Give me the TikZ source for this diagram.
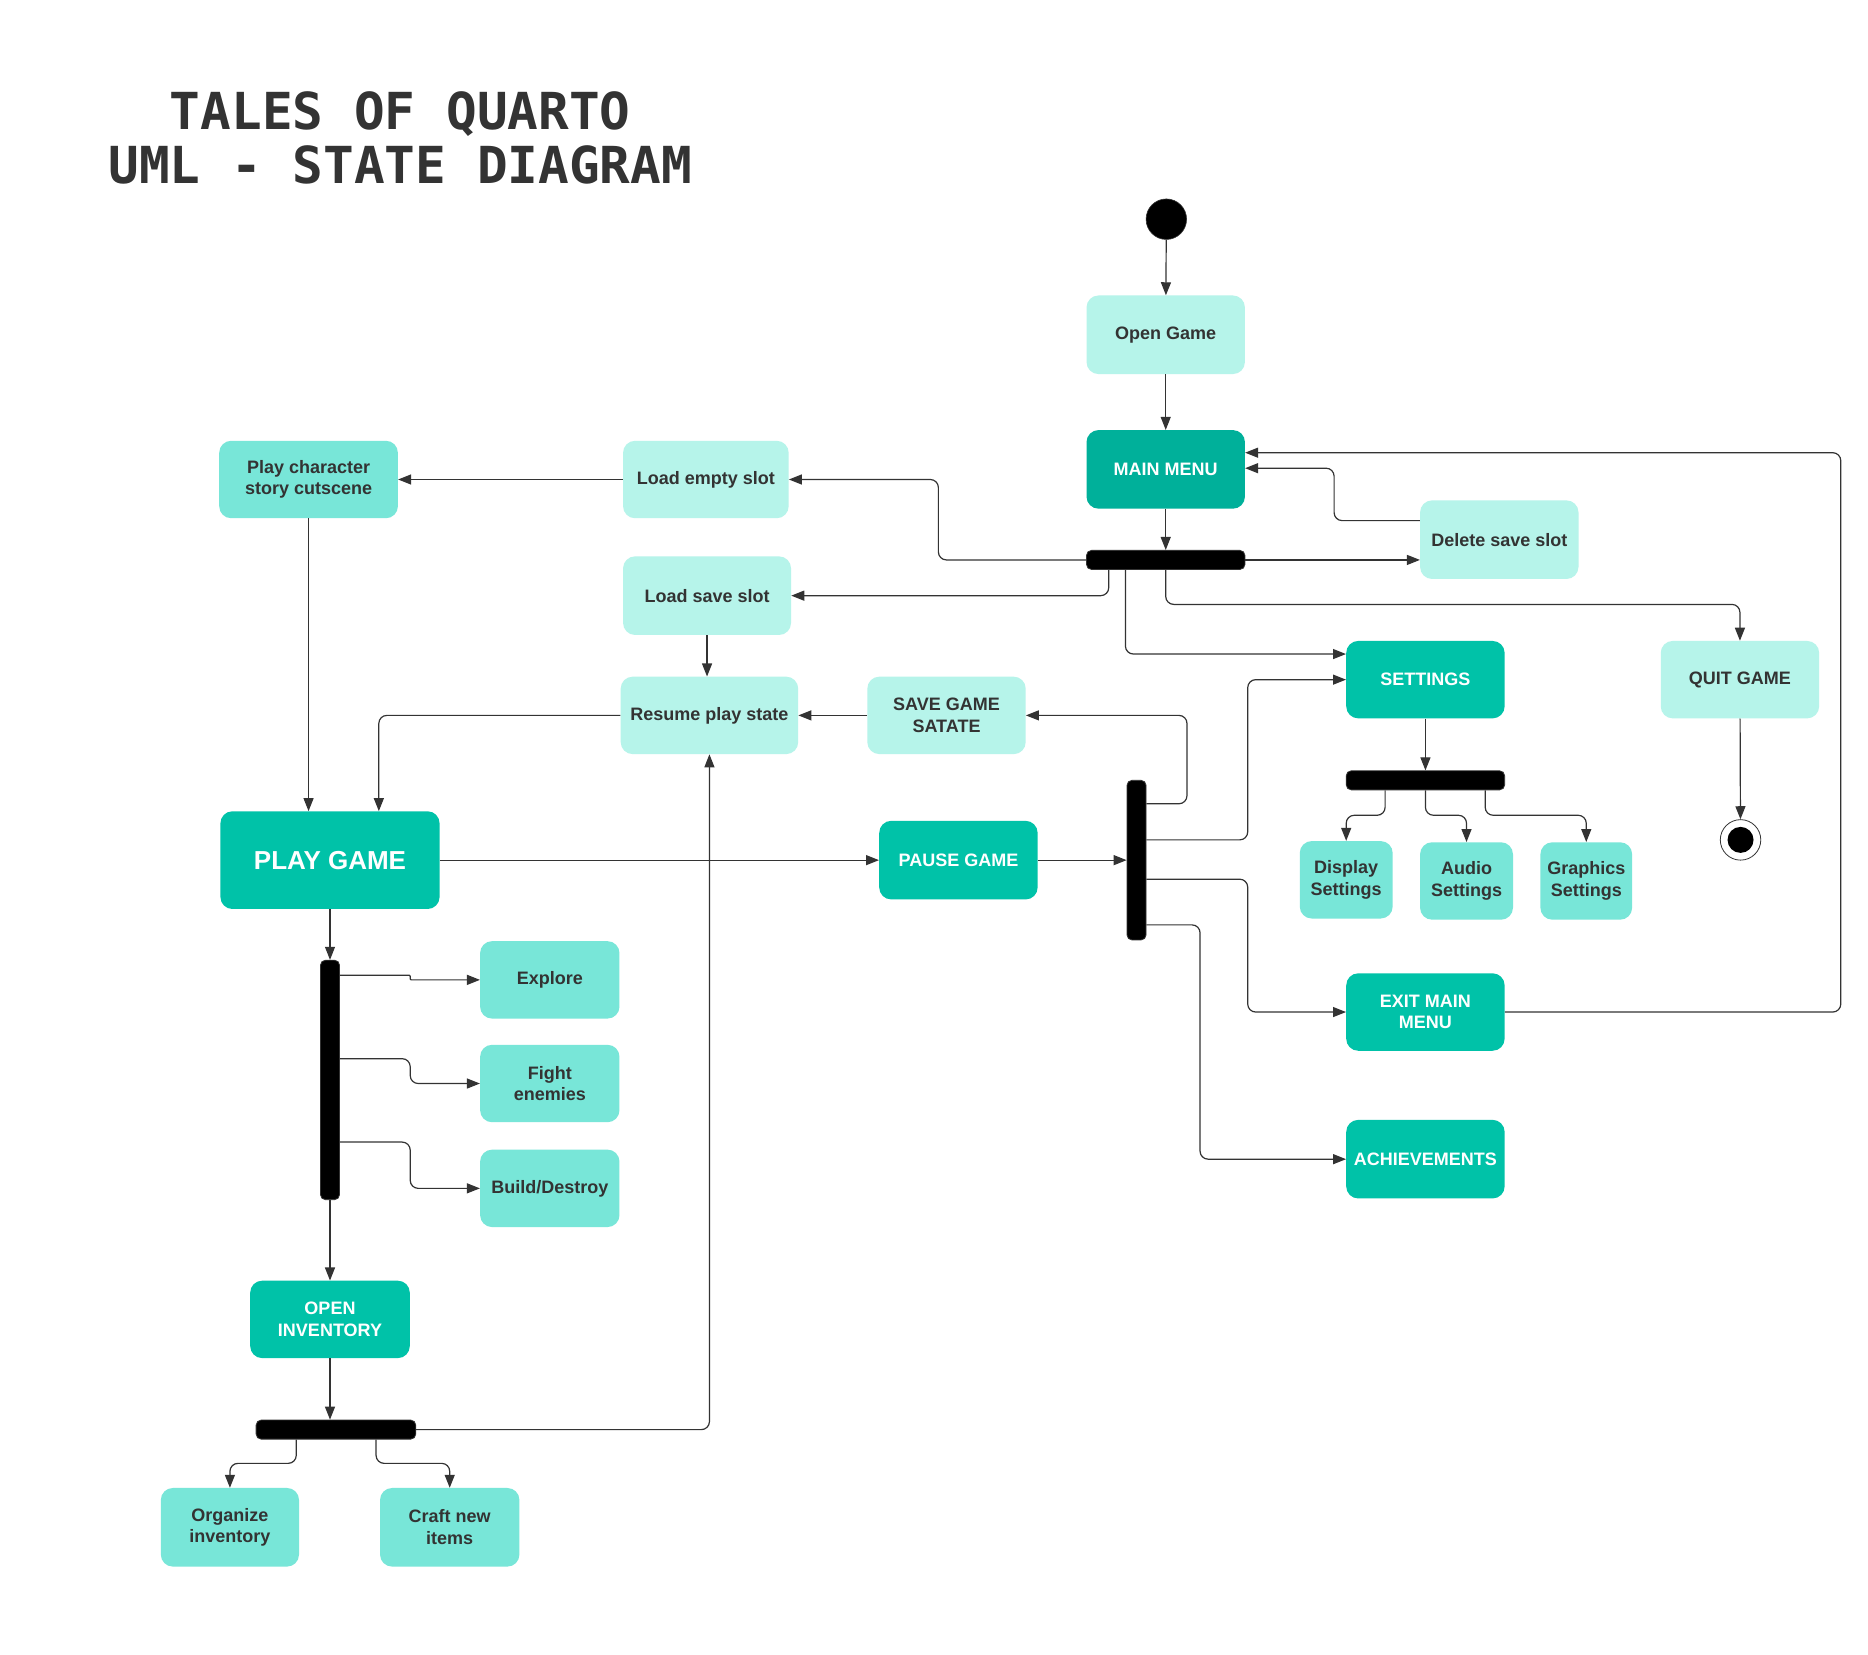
\documentclass[tikz,border=0pt]{standalone}
\usepackage{fontspec}
\setmainfont{Liberation Sans}
\newfontfamily\titlefont{DejaVu Sans Mono}
\usetikzlibrary{arrows.meta,calc}
\definecolor{lightc}{HTML}{B6F4EA}
\definecolor{midc}{HTML}{78E6D8}
\definecolor{tealc}{HTML}{00C2A8}
\definecolor{darkc}{HTML}{00B09A}
\definecolor{ink}{HTML}{333333}
\begin{document}
\begin{tikzpicture}[x=1.1913pt,y=-1.1913pt,
  box/.style={rounded corners=12pt, inner sep=0pt, align=center,
    font=\bfseries\fontsize{18}{21.5}\selectfont, text=ink,
    minimum width=158.4pt, minimum height=78.6pt},
  lbox/.style={box, fill=lightc},
  mbox/.style={box, fill=midc},
  tbox/.style={box, fill=tealc, text=white},
  dbox/.style={box, fill=darkc, text=white},
  wd/.style={minimum width=#1*1.1913pt},
  ht/.style={minimum height=#1*1.1913pt},
  barshape/.style={fill=black, draw=ink, line width=0.8pt, rounded corners=5pt, inner sep=0pt},
  arr/.style={draw=ink, line width=1.2pt, rounded corners=8pt, -{Triangle[length=13pt,width=10pt]}},
  titlestyle/.style={font=\titlefont\bfseries\fontsize{51}{54}\selectfont, text=ink, anchor=base, inner sep=0pt},
]
\fill[white] (0,0) rectangle (1568,1389);
\useasboundingbox (0,0) rectangle (1568,1389);

% title
\node[titlestyle] (t1) at (336,109) {TALES OF QUARTO};
\node[titlestyle] (t2) at (336,154) {UML - STATE DIAGRAM};

% initial / final
\node[circle, fill=black, draw=ink, line width=0.6pt, minimum size=40.5pt, inner sep=0pt] (init) at (979,184) {};
\node[circle, fill=white, draw=ink, line width=0.8pt, minimum size=40.5pt, inner sep=0pt] (final) at (1461,705) {};
\fill[black] (final.center) circle (13pt);

% states
\node[lbox] (open) at (978.5,281) {Open Game};
\node[dbox] (main) at (978.5,394) {MAIN MENU};
\node[lbox] (delete) at (1258.5,453) {Delete save slot};
\node[lbox, wd=139, ht=65] (lempty) at (592.5,402.5) {Load empty slot};
\node[mbox, wd=150, ht=65] (story) at (259,402.5) {Play character\\story cutscene};
\node[lbox, wd=141] (lsave) at (593.5,500) {Load save slot};
\node[lbox, wd=149, ht=65] (resume) at (595.5,600.5) {Resume play state};
\node[lbox, ht=65] (savegs) at (794.5,600.5) {SAVE GAME\\SATATE};
\node[tbox, ht=65] (settings) at (1196.5,570.5) {SETTINGS};
\node[lbox, ht=65] (quit) at (1460.5,570.5) {QUIT GAME};
\node[mbox, wd=78, ht=65] (display) at (1130,738.5) {Display\\Settings};
\node[mbox, wd=78, ht=65] (audio) at (1231,739.5) {Audio\\Settings};
\node[mbox, wd=77, ht=65] (graphics) at (1331.5,739.5) {Graphics\\Settings};
\node[tbox, wd=184, ht=82, font=\bfseries\fontsize{26}{30}\selectfont] (play) at (277,722) {PLAY GAME};
\node[tbox] (pause) at (804.5,722) {PAUSE GAME};
\node[tbox, ht=65] (exitmm) at (1196.5,849.5) {EXIT MAIN\\MENU};
\node[tbox] (achiev) at (1196.5,973) {ACHIEVEMENTS};
\node[mbox, wd=117, ht=65] (explore) at (461.5,822.5) {Explore};
\node[mbox, wd=117, ht=65] (fight) at (461.5,909.5) {Fight\\enemies};
\node[mbox, wd=117, ht=65] (build) at (461.5,997.5) {Build/Destroy};
\node[tbox, wd=134, ht=65] (openinv) at (277,1107.5) {OPEN\\INVENTORY};
\node[mbox, wd=116] (organize) at (193,1282) {Organize\\inventory};
\node[mbox, wd=117] (craft) at (377.5,1282) {Craft new\\items};

% bars
\node[barshape, wd=133, ht=16] (bar1) at (978.5,470) {};
\node[barshape, wd=133, ht=16] (sbar) at (1196.5,655) {};
\node[barshape, wd=16, ht=134] (pbar) at (954,722) {};
\node[barshape, wd=16, ht=201] (vbar) at (277,906.5) {};
\node[barshape, wd=134, ht=16] (ibar) at (282,1200) {};

% connectors
\draw[arr] (init) -- (open);
\draw[arr] (open) -- (main);
\draw[arr] (main) -- (bar1);
\draw[arr] (bar1.west) -- ++(-124,0) |- (lempty.east);
\draw[arr] (lempty.west) -- (story.east);
\draw[arr] ($(bar1.south west)+(19,0)$) |- (lsave.east);
\draw[arr] ($(bar1.south west)+(33,0)$) |- ($(settings.west)+(0,-21.5)$);
\draw[arr] (bar1.south) -- ++(0,29) -| (quit.north);
\draw[arr] (bar1.east) -- (delete.west |- bar1.east);
\draw[arr] ($(delete.west)+(0,-16)$) -- ++(-72,0) |- ($(main.east)+(0,-1)$);
\draw[arr] (exitmm.east) -- ++(282,0) |- ($(main.east)+(0,-14)$);
\draw[arr] (quit) -- (final);
\draw[arr] (lsave.south) -- (lsave.south |- resume.north);
\draw[arr] (resume.west) -| ($(play.north)+(41,0)$);
\draw[arr] (story.south) -- (story.south |- play.north);
\draw[arr] (savegs.west) -- (resume.east);
\draw[arr] ($(pbar.north east)+(0,20)$) -- ++(34,0) |- (savegs.east);
\draw[arr] ($(pbar.east)+(0,-17)$) -- ++(85,0) |- (settings.west);
\draw[arr] ($(pbar.east)+(0,16)$) -- ++(85,0) |- (exitmm.west);
\draw[arr] ($(pbar.south east)+(0,-13)$) -- ++(45,0) |- (achiev.west);
\draw[arr] (play.east) -- (pause.west);
\draw[arr] (pause.east) -- (pbar.west);
\draw[arr] (play.south) -- (vbar.north);
\draw[arr, rounded corners=1pt] ($(vbar.north east)+(0,13)$) -- ++(59,0) |- (explore.west);
\draw[arr] ($(vbar.north east)+(0,83)$) -- ++(59,0) |- (fight.west);
\draw[arr] ($(vbar.north east)+(0,153)$) -- ++(59,0) |- (build.west);
\draw[arr] (vbar.south) -- (openinv.north);
\draw[arr] (openinv.south) -- (openinv.south |- ibar.north);
\draw[arr] (ibar.east) -| (resume.south);
\draw[arr] ($(ibar.south west)+(34,0)$) -- ++(0,20) -| (organize.north);
\draw[arr] ($(ibar.south west)+(101,0)$) -- ++(0,20) -| (craft.north);
\draw[arr] (settings.south) -- (sbar.north);
\draw[arr] ($(sbar.south west)+(33,0)$) -- ++(0,21) -| (display.north);
\draw[arr] (sbar.south) -- ++(0,21) -| (audio.north);
\draw[arr] ($(sbar.south west)+(117,0)$) -- ++(0,21) -| (graphics.north);
\end{tikzpicture}
\end{document}
